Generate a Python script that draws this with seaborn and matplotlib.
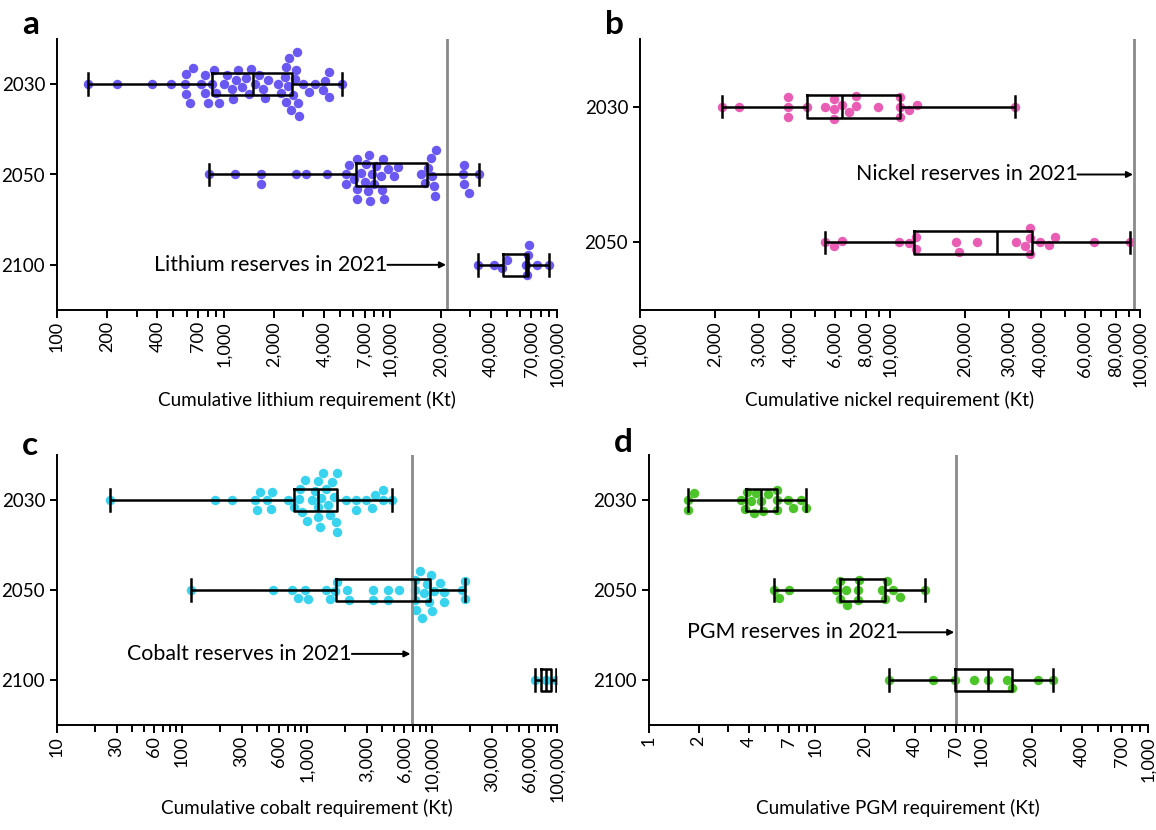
import numpy as np
import pandas as pd
import matplotlib
matplotlib.use("Agg")
import matplotlib.pyplot as plt
import seaborn as sns

# cumulative requirement (Kt)
lithium_2030 = [154, 228, 374, 480, 584, 592, 592, 626, 655, 735, 777, 777, 805, 851,
                871, 895, 937, 1000, 1050, 1122, 1138, 1180, 1219, 1294, 1368, 1420,
                1452, 1535, 1629, 1722, 1778, 1841, 2115, 2215, 2319, 2350, 2372, 2427,
                2483, 2550, 2600, 2661, 2723, 2750, 2787, 2825, 3000, 3272, 3556, 3936,
                4065, 4277, 4315, 5140]
lithium_2050 = [813, 1164, 1681, 1681, 2723, 3126, 4159, 5430, 5430, 5680, 6081, 6300,
                6300, 6300, 6700, 7000, 7145, 7310, 7410, 7550, 7725, 8010, 8200, 8790,
                8915, 8995, 9200, 9635, 10560, 11070, 15270, 16220, 16750, 17540, 17780,
                18360, 18620, 18790, 27130, 27760, 27760, 29740, 33830]
lithium_2100 = [33700, 41600, 47000, 50000, 65000, 66000, 67000, 67500, 76000, 89500]

nickel_2030 = [2120, 2490, 3910, 3910, 3910, 4670, 5480, 5960, 5960, 5960, 6450, 6870,
               7340, 7340, 8920, 10960, 10960, 10960, 11900, 12820, 31630]
nickel_2050 = [5490, 5960, 6450, 10910, 11900, 12740, 12740, 18400, 18830, 22340, 31870,
               34520, 36230, 36230, 36230, 39800, 43260, 45700, 65700, 91400]

cobalt_2030 = [26.5, 183.5, 252.6, 383.7, 396, 421, 482, 513, 529, 702, 790, 869, 881,
               920, 955, 996, 1092, 1150, 1224, 1235, 1235, 1274, 1300, 1355, 1414, 1480,
               1514, 1581, 1630, 1700, 1733, 1733, 2056, 2460, 2460, 2980, 3307, 3470,
               4020, 4020, 4830]
cobalt_2050 = [117, 532, 755, 843, 966, 1027, 1414, 1514, 1680, 1733, 2108, 2148, 3403,
               3403, 4406, 4406, 5403, 7260, 7260, 7345, 7480, 7950, 8300, 8560, 9115,
               9395, 9870, 10000, 10310, 11520, 12400, 12400, 17370, 18480, 18480]
cobalt_2100 = [67000, 82000, 99000]

pgm_2030 = [1.72, 1.72, 1.875, 3.61, 3.79, 3.88, 4.11, 4.27, 4.42, 4.75, 4.88, 5.19,
            5.93, 5.93, 5.93, 6.85, 7.37, 8.2, 8.82]
pgm_2050 = [5.65, 6.07, 7.02, 13.3, 14.2, 14.2, 15.3, 15.6, 18.2, 18.2, 18.5, 25.4,
            26.5, 26.9, 29.4, 32.4, 45.5]
pgm_2100 = [28, 51.3, 69.4, 89.7, 109, 142, 152, 218, 270]

# reserves in 2021 (Kt)
lithium_reserve = 22000
nickel_reserve = 95000
cobalt_reserve = 6900
pgm_reserve = 70

lithium_ticks = [100, 200, 400, 700, 1000, 2000, 4000, 7000, 10000, 20000, 40000, 70000, 100000]
nickel_ticks = [1000, 2000, 3000, 4000, 6000, 8000, 10000, 20000, 30000, 40000, 60000, 80000, 100000]
cobalt_ticks = [10, 30, 60, 100, 300, 600, 1000, 3000, 6000, 10000, 30000, 60000, 100000]
pgm_ticks = [1, 2, 4, 7, 10, 20, 40, 70, 100, 200, 400, 700, 1000]

FONT = ["Lato", "DejaVu Sans"]
plt.rcParams["font.family"] = FONT


def make_frame(groups):
    rows = []
    for year, vals in groups.items():
        for v in vals:
            rows.append({"year": year, "kt": v})
    return pd.DataFrame(rows)


def minor_ticks(lo, hi, major):
    out = []
    dec = lo
    while dec < hi:
        for m in range(1, 10):
            v = m * dec
            if lo < v < hi and v not in major:
                out.append(v)
        dec *= 10
    return out


def panel(ax, groups, color, reserve, ticks, name, note_y, note_ratio, width, label_y):
    df = make_frame(groups)
    ax.set_xscale("log")
    sns.swarmplot(data=df, x="kt", y="year", ax=ax, color=color, size=6.8,
                  orient="h", zorder=1)
    sns.boxplot(data=df, x="kt", y="year", ax=ax, orient="h", fill=False,
                color="black", linecolor="black", linewidth=1.8, width=width,
                whis=(0, 100), showfliers=False, capwidths=width * 0.95)
    ax.axvline(reserve, color="#8a8a8a", lw=2, zorder=1.5)

    ax.set_xlim(ticks[0], ticks[-1])
    ax.set_xticks(ticks)
    ax.set_xticklabels([f"{t:,}" for t in ticks], rotation=90)
    ax.set_xticks(minor_ticks(ticks[0], ticks[-1], ticks), minor=True)
    ax.tick_params(axis="x", which="major", length=6, width=1.4, labelsize=13, pad=2)
    ax.tick_params(axis="x", which="minor", length=5, width=1.4)
    ax.tick_params(axis="y", length=5, width=1.4, labelsize=13.5)
    ax.set_ylabel("")
    ax.set_xlabel(f"Cumulative {name} requirement (Kt)", fontsize=13.6)
    ax.xaxis.set_label_coords(0.5, label_y)
    for s in ["top", "right"]:
        ax.spines[s].set_visible(False)
    for s in ["left", "bottom"]:
        ax.spines[s].set_linewidth(1.4)

    label = f"{name.capitalize() if name != 'PGM' else name} reserves in 2021"
    start = reserve / note_ratio
    ax.annotate("", xy=(reserve, note_y), xytext=(start, note_y),
                arrowprops=dict(arrowstyle="-|>", color="black", lw=1.4,
                                mutation_scale=9, shrinkA=0, shrinkB=1))
    ax.text(start, note_y, label, ha="right", va="center", fontsize=15.4)


fig = plt.figure(figsize=(11.56, 8.30), dpi=100)
W, H = 1156, 830

ax_a = fig.add_axes([57 / W, 1 - 310 / H, 500 / W, 271 / H])
ax_b = fig.add_axes([640 / W, 1 - 310 / H, 500 / W, 271 / H])
ax_c = fig.add_axes([57 / W, 1 - 725 / H, 500 / W, 270 / H])
ax_d = fig.add_axes([648.6 / W, 1 - 725 / H, 499.3 / W, 270 / H])

panel(ax_a, {"2030": lithium_2030, "2050": lithium_2050, "2100": lithium_2100},
      "#6a58f2", lithium_reserve, lithium_ticks, "lithium", 2, 2.29, 0.25, -0.299)
panel(ax_b, {"2030": nickel_2030, "2050": nickel_2050},
      "#ea5db4", nickel_reserve, nickel_ticks, "nickel", 0.5, 1.69, 0.167, -0.299)
panel(ax_c, {"2030": cobalt_2030, "2050": cobalt_2050, "2100": cobalt_2100},
      "#38d3ef", cobalt_reserve, cobalt_ticks, "cobalt", 1.71, 3.02, 0.25, -0.274)
panel(ax_d, {"2030": pgm_2030, "2050": pgm_2050, "2100": pgm_2100},
      "#4cc52a", pgm_reserve, pgm_ticks, "PGM", 1.47, 2.23, 0.25, -0.274)

for letter, (x, y) in zip("abcd", [(31, 25), (614, 25), (30, 445), (623, 442)]):
    fig.text(x / W, 1 - y / H, letter, fontsize=24, fontweight="bold",
             ha="center", va="center")

fig.savefig("out.png", dpi=100)
